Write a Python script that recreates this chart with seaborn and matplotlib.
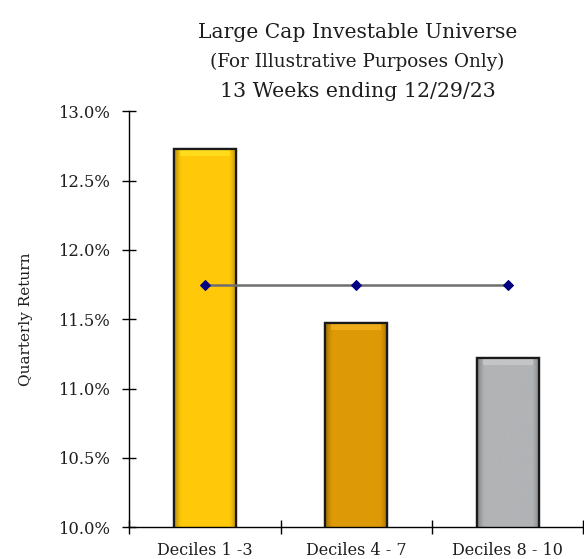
import numpy as np
import pandas as pd
import matplotlib
matplotlib.use("Agg")
import matplotlib.pyplot as plt
import seaborn as sns
from matplotlib.ticker import FuncFormatter, FixedLocator

# Quarterly returns by decile group (percent)
categories = ["Deciles 1 -3", "Deciles 4 - 7", "Deciles 8 - 10"]
returns = [12.73, 11.47, 11.22]
universe_avg = [11.75, 11.75, 11.75]
bar_colors = ["#FFC90A", "#DE9A06", "#B1B3B5"]

sns.set_theme(style="white")
plt.rcParams["font.family"] = ["DejaVu Serif"]

df = pd.DataFrame({"group": categories, "ret": returns, "avg": universe_avg})

fig = plt.figure(figsize=(5.84, 5.59), dpi=100)
ax = fig.add_axes([0.221, 0.057, 0.778, 0.744])

sns.barplot(data=df, x="group", y="ret", hue="group", palette=bar_colors,
            width=0.41, edgecolor="#1a1a1a", linewidth=1.6, legend=False,
            ax=ax, zorder=2)

# Bevel shading on each bar: bright top rim, darker sides
for patch, col in zip(ax.patches, bar_colors):
    x0, y0 = patch.get_x(), patch.get_y()
    w, h = patch.get_width(), patch.get_height()
    base = np.array(matplotlib.colors.to_rgb(col))
    xs = np.linspace(0, 1, 64)
    side = 1 - 0.3 * (np.clip(1 - xs / 0.12, 0, 1) ** 1.5 + np.clip((xs - 0.88) / 0.12, 0, 1) ** 1.5)
    img = np.clip(base[None, None, :] * side[None, :, None], 0, 1)
    ax.imshow(img, extent=[x0, x0 + w, y0, y0 + h], aspect="auto",
              zorder=2.1, clip_path=patch, clip_on=True)
    top_h = 0.05
    ax.fill_between([x0 + w * 0.1, x0 + w * 0.9], y0 + h - top_h, y0 + h,
                    color=np.clip(base + 0.12, 0, 1), alpha=0.6, zorder=2.2, linewidth=0)
    ax.add_patch(plt.Rectangle((x0, y0), w, h, fill=False, edgecolor="#1a1a1a",
                               linewidth=1.6, zorder=2.3))

sns.lineplot(data=df, x="group", y="avg", color="#6e6e6e", linewidth=1.8,
             marker="D", markersize=5.5, markerfacecolor="#000080",
             markeredgecolor="#000080", ax=ax, zorder=3)

ax.set_ylim(10.0, 13.0)
ax.set_xlim(-0.5, 2.5)
ax.set_yticks(np.arange(10.0, 13.01, 0.5))
ax.yaxis.set_major_formatter(FuncFormatter(lambda v, p: f"{v:.1f}%"))

# Tick marks on category boundaries, labels at category centres
ax.xaxis.set_major_locator(FixedLocator([-0.5, 0.5, 1.5, 2.5]))
ax.xaxis.set_minor_locator(FixedLocator([0, 1, 2]))
ax.set_xticklabels([], minor=False)
ax.set_xticklabels(categories, minor=True)
ax.tick_params(axis="x", which="major", direction="inout", length=10, width=1, color="black")
ax.tick_params(axis="x", which="minor", length=0, labelsize=11.5, pad=11, labelcolor="#1e1e1e")
ax.tick_params(axis="y", direction="inout", length=10, width=1, color="black",
               labelsize=11.8, pad=9, labelcolor="#1e1e1e")
ax.tick_params(bottom=True, left=True)

for s in ["top", "right"]:
    ax.spines[s].set_visible(False)
for s in ["left", "bottom"]:
    ax.spines[s].set_color("black")
    ax.spines[s].set_linewidth(1.0)

ax.set_xlabel("")
ax.set_ylabel("Quarterly Return", fontsize=11, color="#1e1e1e", labelpad=18)

fig.text(0.612, 0.942, "Large Cap Investable Universe", ha="center", va="center",
         fontsize=14.6, color="#1e1e1e")
fig.text(0.612, 0.890, "(For Illustrative Purposes Only)", ha="center", va="center",
         fontsize=13.2, color="#1e1e1e")
fig.text(0.612, 0.837, "13 Weeks ending 12/29/23", ha="center", va="center",
         fontsize=14.8, color="#1e1e1e")

fig.savefig("out.png", dpi=100, facecolor="white")
